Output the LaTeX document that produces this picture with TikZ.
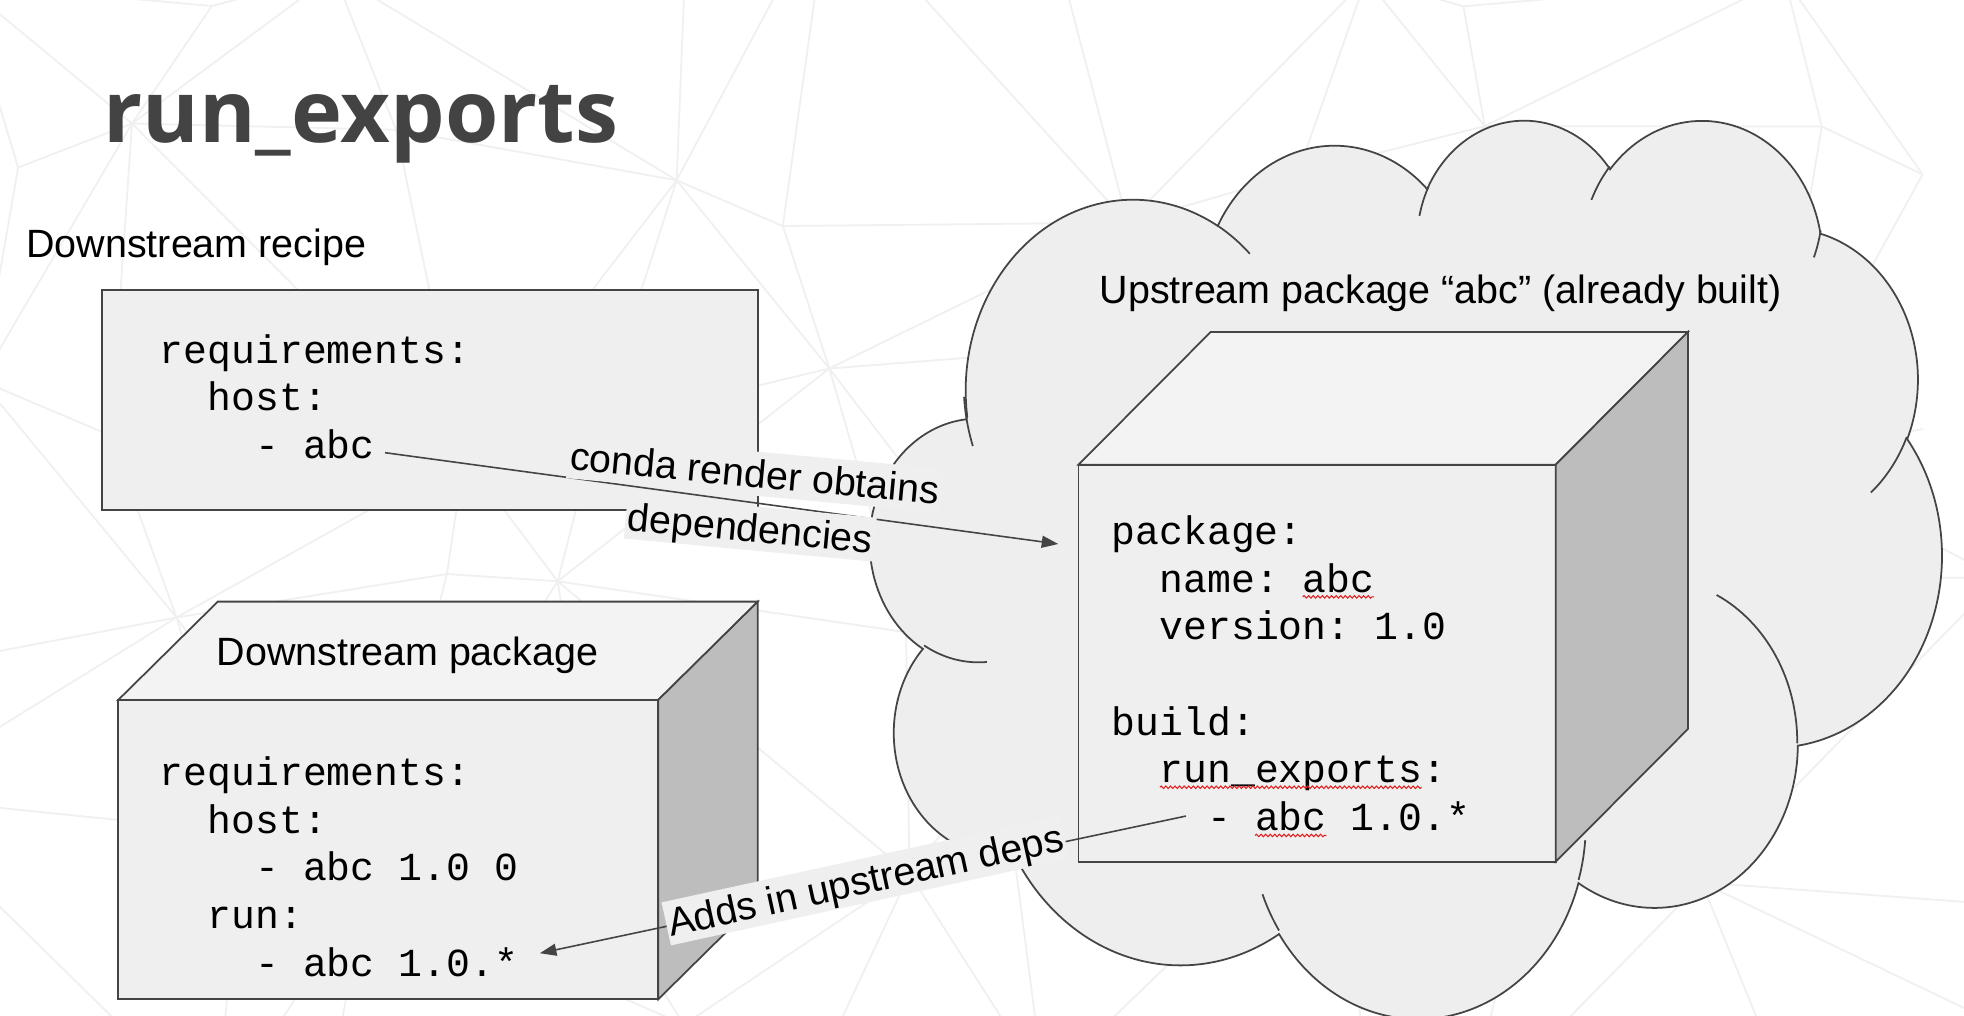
\documentclass[tikz,border=0pt]{standalone}
\usepackage{fontspec}
\setmainfont{Liberation Sans}
\setmonofont{Liberation Mono}
\newfontfamily\titlefont{Open Sans}
\usetikzlibrary{arrows.meta,decorations.pathmorphing}

\definecolor{linegray}{HTML}{444444}
\definecolor{titlegray}{HTML}{434343}
\definecolor{boxfill}{HTML}{EFEFEF}
\definecolor{topfill}{HTML}{F3F3F3}
\definecolor{sidefill}{HTML}{BDBDBD}
\definecolor{cloudfill}{HTML}{EEEEEE}
\definecolor{meshgray}{HTML}{F0F0F0}
\definecolor{spellred}{HTML}{E02020}

\newcommand\codeind{\phantom{xx}}

% visual (OOXML) angles -> parametric angles of an ellipse arc
\newcommand\cloudang[4]{%
  \pgfmathsetmacro\cloudA{atan2(#1*sin(#3),#2*cos(#3))}%
  \pgfmathsetmacro\cloudB{atan2(#1*sin(#3+#4),#2*cos(#3+#4))}%
  \pgfmathsetmacro\cloudD{mod(\cloudB-\cloudA+720,360)}%
  \xdef\cloudst{\cloudA}\xdef\clouddl{\cloudD}}
\newcommand\puff[4]{\pgfextra{\cloudang{#1}{#2}{#3}{#4}} arc[start angle=\cloudst, delta angle=\clouddl, x radius=#1, y radius=#2]}

\tikzset{
  outline/.style={draw=linegray, line width=0.5pt},
  codebox/.style={outline, fill=boxfill},
  topside/.style={outline, fill=topfill},
  rightside/.style={outline, fill=sidefill},
  cloudshape/.style={outline, fill=cloudfill},
  meshline/.style={draw=meshgray, line width=0.5pt},
  titletext/.style={font=\titlefont\bfseries\fontsize{24.5}{29}\selectfont, text=titlegray, anchor=base west, inner sep=0pt},
  caption/.style={font=\fontsize{11.2}{13.4}\selectfont, anchor=base west, inner sep=0pt},
  code/.style={font=\ttfamily\fontsize{11.3}{13.55}\selectfont, align=left, anchor=base west, inner sep=0pt},
  note/.style={font=\fontsize{11.2}{13.4}\selectfont, fill=boxfill, anchor=base, inner xsep=0.6pt, inner ysep=0pt, text height=10.1pt, text depth=2.4pt},
  arrowline/.style={draw=linegray, line width=0.45pt, ->},
  squiggle/.style={draw=spellred, line width=0.3pt, decorate, decoration={snake, amplitude=0.35pt, segment length=1.3pt}}
}

\begin{document}
\begin{tikzpicture}[x=0.125mm, y=-0.125mm, >={Triangle[length=4.7pt,width=3.4pt]}]
  \useasboundingbox (0,0) rectangle (1568,811);
  \fill[white] (0,0) rectangle (1568,811);

  % faint background mesh
  \begin{scope}
    \clip (0,0) rectangle (1568,811);
    \foreach \i in {0,...,9}{
      \foreach \j in {0,...,5}{
        \pgfmathsetmacro\mx{\i*180-40+55*sin(\i*137+\j*71+11)}
        \pgfmathsetmacro\my{\j*180-40+45*sin(\i*59+\j*151+37)}
        \coordinate (m-\i-\j) at (\mx,\my);
      }
    }
    \foreach \i [evaluate=\i as \ip using int(\i+1)] in {0,...,8}{
      \foreach \j [evaluate=\j as \jp using int(\j+1)] in {0,...,4}{
        \draw[meshline] (m-\i-\j) -- (m-\ip-\j) (m-\i-\j) -- (m-\i-\jp);
        \pgfmathtruncatemacro\pr{mod(\i+\j,2)}
        \ifnum\pr=0
          \draw[meshline] (m-\i-\j) -- (m-\ip-\jp);
        \else
          \draw[meshline] (m-\ip-\j) -- (m-\i-\jp);
        \fi
      }
    }
  \end{scope}

  \node[titletext] (title) at (82,113.4) {run\_exports};

  % downstream recipe (code nodes sit on the baseline of their last line)
  \node[caption] (recipetitle) at (20.5,205.2) {Downstream recipe};
  \draw[codebox] (81.5,231.5) rectangle (605,407);
  \node[code] (recipecode) at (127,366) {requirements:\\\codeind host:\\\codeind\codeind - abc};

  % downstream package
  \draw[topside] (94.4,558.8) -- ++(79.5,-78.5) -- (605,480.3) -- (525.5,558.8) -- cycle;
  \draw[codebox] (94.4,558.8) rectangle (525.5,797.8);
  \draw[rightside] (525.5,558.8) -- (605,480.3) -- (605,719.3) -- (525.5,797.8) -- cycle;
  \node[caption] (pkgtitle) at (172.5,531) {Downstream package};
  \node[code] (pkgcode) at (127,779.4) {requirements:\\\codeind host:\\\codeind\codeind - abc 1.0 0\\\codeind run:\\\codeind\codeind - abc 1.0.*};

  % cloud
  \begin{scope}[shift={(695,94)}, x=0.2474mm, y=-0.20747mm]
    \draw[cloudshape] (39.00,143.70) \puff{67.53}{91.90}{-190.4875}{123.7805}
      \puff{53.33}{72.67}{-144.1024}{89.9452}
      \puff{43.65}{59.45}{-145.8079}{99.7230}
      \puff{48.57}{65.95}{-130.9861}{117.2417}
      \puff{53.33}{72.73}{-78.7089}{109.0269}
      \puff{67.75}{92.20}{-46.2673}{130.2690}
      \puff{57.85}{78.67}{0.6250}{114.0333}
      \puff{67.52}{92.15}{22.4516}{115.1726}
      \puff{77.20}{105.43}{66.2426}{75.7110}
      \puff{43.60}{59.18}{-274.9421}{146.7356}
      \puff{43.45}{59.45}{-246.8285}{152.5189} -- cycle;
    \draw[outline] (46.93,261.77) \puff{43.45}{59.45}{86.7420}{26.4295}
      (69.28,348.99) \puff{43.60}{59.18}{73.6105}{11.4475}
      (164.78,390.90) \puff{67.52}{92.15}{137.6242}{14.0811}
      (288.27,347.51) \puff{67.52}{92.15}{6.4533}{15.9984}
      (341.29,229.54) \puff{57.85}{78.67}{-70.2924}{70.9174}
      (417.98,153.54) \puff{53.33}{72.73}{30.3180}{27.7515}
      (383.24,54.26) \puff{48.57}{65.95}{13.7443}{14.8589}
      (290.78,39.52) \puff{48.57}{65.95}{-149.1815}{18.1954}
      (221.41,47.20) \puff{43.65}{59.45}{-163.4943}{17.8975}
      (140.00,51.92) \puff{67.53}{91.90}{-66.7070}{12.3194}
      (41.27,157.89) \puff{67.53}{91.90}{154.8315}{19.7861};
  \end{scope}

  % upstream package
  \node[caption] (uptitle) at (877.5,242) {Upstream package “abc” (already built)};
  \draw[topside] (861,371) -- (966.6,265) -- (1347.6,265) -- (1242,371) -- cycle;
  \draw[codebox] (861,371) rectangle (1242,688);
  \draw[rightside] (1242,371) -- (1347.6,265) -- (1347.6,582) -- (1242,688) -- cycle;
  \node[code] (upcode) at (887,663.2) {package:\\\codeind name: abc\\\codeind version: 1.0\\[13.55pt]build:\\\codeind run\_exports:\\\codeind\codeind - abc 1.0.*};
  \draw[squiggle] (1040,476.5) -- (1097,476.5);
  \draw[squiggle] (926,628.5) -- (1135,628.5);
  \draw[squiggle] (1002,667) -- (1059,667);

  % conda render
  \coordinate (recipeabc) at (307.4,361.4);
  \coordinate (cloudpt) at (844.9,434.3);
  \draw[arrowline] (recipeabc) -- (cloudpt);
  \node[note, rotate=-5.3] (render1) at (601.6,388.8) {conda render obtains};
  \node[note, rotate=-5.3] (render2) at (598,432.4) {dependencies};

  % run_exports into downstream package
  \coordinate (exportpt) at (946.8,651.5);
  \coordinate (runpt) at (431,761);
  \draw[arrowline] (exportpt) -- (runpt);
  \node[note, rotate=12.3] (adds) at (693.2,713.5) {Adds in upstream deps};
\end{tikzpicture}
\end{document}
